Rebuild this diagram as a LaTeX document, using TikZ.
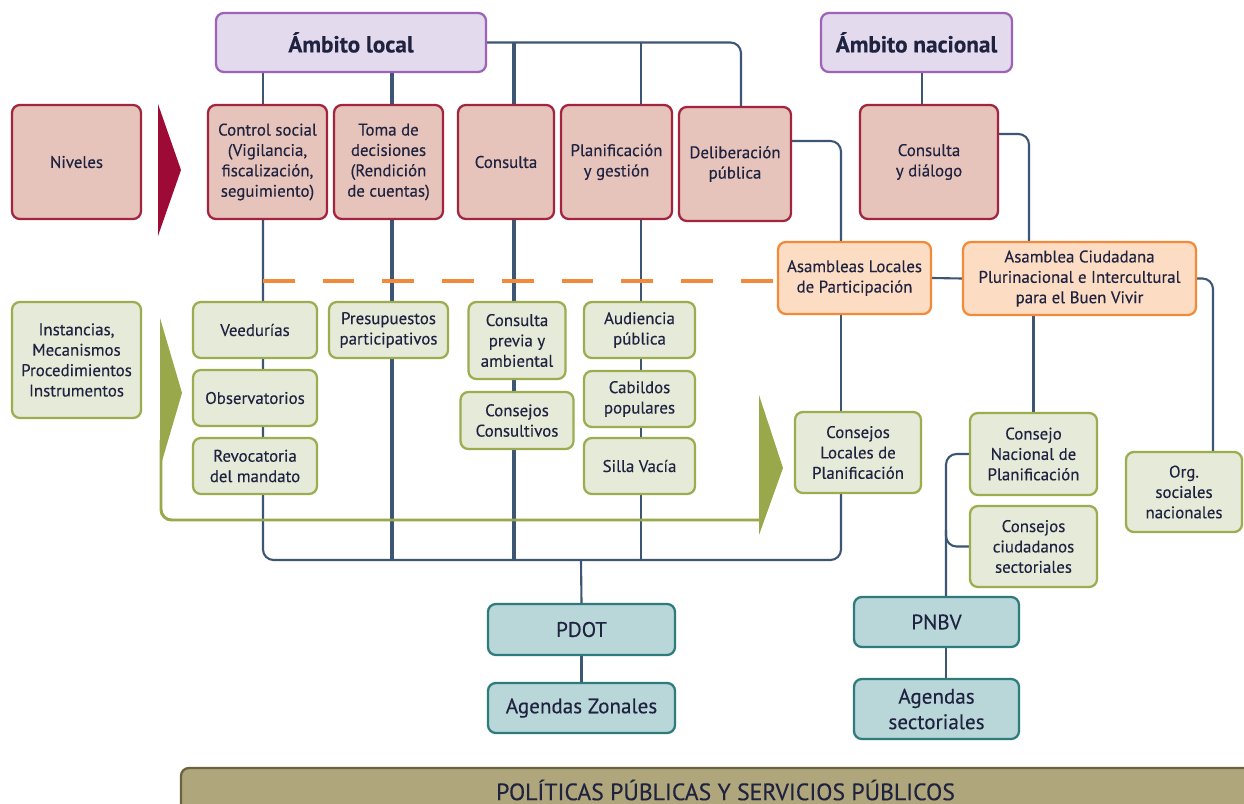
\documentclass[tikz,border=0pt]{standalone}
\usepackage{fontspec}
\setmainfont{PT Sans}[FakeBold=0.3]
\definecolor{purf}{HTML}{E3DAEE}
\definecolor{purb}{HTML}{9E63B8}
\definecolor{redf}{HTML}{E6C3BB}
\definecolor{redb}{HTML}{A3243F}
\definecolor{orgf}{HTML}{FDDCC4}
\definecolor{orgb}{HTML}{F18B3B}
\definecolor{grnf}{HTML}{E6EAD9}
\definecolor{grnb}{HTML}{9BAD4E}
\definecolor{tealf}{HTML}{B9D7D8}
\definecolor{tealb}{HTML}{2E7B7E}
\definecolor{khf}{HTML}{B0A67C}
\definecolor{khb}{HTML}{6A6340}
\definecolor{lnc}{HTML}{3C5673}
\definecolor{redtri}{HTML}{9C0A35}
\definecolor{grntri}{HTML}{98A84A}
\definecolor{txt}{HTML}{1F2340}
\pgfdeclarelayer{bg}
\pgfsetlayers{bg,main}
\tikzset{
 base/.style={rounded corners=4.5pt, line width=1.3pt, align=center, inner sep=1pt, text=txt, font=\fontsize{9.6}{11.6}\selectfont},
 wh/.style 2 args={minimum width=#1*0.02cm, minimum height=#2*0.02cm},
 amb/.style={base, draw=purb, fill=purf, font=\bfseries\fontsize{13.2}{15}\selectfont},
 lvl/.style={base, draw=redb, fill=redf},
 asm/.style={base, draw=orgb, fill=orgf},
 inst/.style={base, draw=grnb, fill=grnf},
 plan/.style={base, draw=tealb, fill=tealf, font=\fontsize{12}{14.5}\selectfont},
 polbar/.style={base, draw=khb, fill=khf, font=\fontsize{13.5}{15}\selectfont},
 conn/.style={draw=lnc, line width=1.2pt},
 connb/.style={draw=lnc, line width=1.8pt},
 dashline/.style={draw=orgb, line width=2.2pt, dash pattern=on 18pt off 16pt},
 grnline/.style={draw=grntri, line width=1.7pt},
}
\begin{document}
\begin{tikzpicture}[x=0.02cm,y=-0.02cm]
\clip (0,0) rectangle (1244,804);
% column coordinates
\coordinate (x263) at (263,0);
\coordinate (x392) at (392,0);
\coordinate (x514) at (514,0);
\coordinate (x641) at (641,0);
\coordinate (x741) at (741,0);
\coordinate (x841) at (841,0);
\coordinate (x922) at (922,0);
\coordinate (x946) at (946,0);
\coordinate (y141) at (0,141);
\coordinate (y134) at (0,134);
\coordinate (y281) at (0,281);
\coordinate (y530) at (0,530);
\coordinate (bus) at (581,560);
% nodes
\node[amb, wh={270}{59}] (al) at (351,42.5) {Ámbito local};
\node[amb, wh={191}{59}] (an) at (916.5,42.5) {Ámbito nacional};
\node[lvl, wh={129}{114}] (niv) at (76.5,162) {Niveles};
\node[lvl, wh={119}{114}] (cs) at (267.5,162) {Control social\\(Vigilancia,\\fiscalización,\\seguimiento)};
\node[lvl, wh={109}{114}] (td) at (388.5,162) {Toma de\\decisiones\\(Rendición\\de cuentas)};
\node[lvl, wh={96}{114}] (con) at (506,162) {Consulta};
\node[lvl, wh={111}{114}] (pg) at (616.5,162) {Planificación\\y gestión};
\node[lvl, wh={112}{114}] (dp) at (735,164) {Deliberación\\pública};
\node[lvl, wh={138}{114}] (cd) at (929,162) {Consulta\\y diálogo};
\node[asm, wh={153}{72}] (alp) at (854.5,278) {Asambleas Locales\\de Participación};
\node[asm, wh={233}{73}] (acp) at (1079.5,278.5) {Asamblea Ciudadana\\Plurinacional e Intercultural\\para el Buen Vivir};
\node[inst, wh={129}{116}] (ins) at (76.5,360) {Instancias,\\Mecanismos\\Procedimientos\\Instrumentos};
\node[inst, wh={124}{56}] (vee) at (255,330) {Veedurías};
\node[inst, wh={124}{56}] (obs) at (255,398) {Observatorios};
\node[inst, wh={124}{56}] (rev) at (255,466) {Revocatoria\\del mandato};
\node[inst, wh={119}{56}] (pre) at (388.5,330) {Presupuestos\\participativos};
\node[inst, wh={97}{77}] (cpa) at (517,340.5) {Consulta\\previa y\\ambiental};
\node[inst, wh={113}{57}] (cco) at (517,420.5) {Consejos\\Consultivos};
\node[inst, wh={111}{56}] (aud) at (639.5,330) {Audiencia\\pública};
\node[inst, wh={111}{56}] (cab) at (639.5,399) {Cabildos\\populares};
\node[inst, wh={111}{56}] (sil) at (639.5,466) {Silla Vacía};
\node[inst, wh={126}{81}] (clp) at (858,452.5) {Consejos\\Locales de\\Planificación};
\node[inst, wh={127}{82}] (cnp) at (1033.5,454) {Consejo\\Nacional de\\Planificación};
\node[inst, wh={127}{81}] (ccs) at (1033.5,546.5) {Consejos\\ciudadanos\\sectoriales};
\node[inst, wh={116}{80}] (org) at (1184,492) {Org.\\sociales\\nacionales};
\node[plan, wh={187}{51}] (pdot) at (581.5,629.5) {PDOT};
\node[plan, wh={187}{50}] (agz) at (581.5,708) {Agendas Zonales};
\node[plan, wh={165}{50}] (pnbv) at (936.5,622) {PNBV};
\node[plan, wh={165}{60}] (ags) at (936.5,709) {Agendas\\sectoriales};
\node[polbar, wh={1089}{44}] (pol) at (725.5,790) {POLÍTICAS PÚBLICAS Y SERVICIOS PÚBLICOS};
% triangles
\fill[redtri] (158,104) -- (181,170) -- (158,236) -- cycle;
\fill[grntri] (160,318) -- (182,393) -- (160,468) -- cycle;
\fill[grntri] (759,395) -- (783,468) -- (759,535) -- cycle;
\draw[grnline, rounded corners=6pt] (161,440) |- (762,520);
% connectors
\begin{pgfonlayer}{bg}
\fill[white] (0,0) rectangle (1244,804);
\draw[conn] (al.south -| x263) -- (cs.north -| x263);
\draw[connb] (al.south -| x392) -- (td.north -| x392);
\draw[conn, rounded corners=6pt] (al.east) -| (dp.north -| x741);
\draw[connb] (al.east -| x514) -- (con.north -| x514);
\draw[conn] (al.east -| x641) -- (pg.north -| x641);
\draw[conn, rounded corners=6pt] (cs.south -| x263) |- (bus) -| (clp.south -| x841);
\draw[connb] (td.south -| x392) -- (x392 |- bus);
\draw[connb] (con.south -| x514) -- (x514 |- bus);
\draw[conn] (pg.south -| x641) -- (x641 |- bus);
\draw[conn] (bus) -- (pdot.north);
\draw[conn] (pdot) -- (agz);
\draw[conn, rounded corners=6pt] (dp.east |- y141) -| (alp.north -| x841);
\draw[conn] (alp.south -| x841) -- (clp.north -| x841);
\draw[conn] (an.south -| x922) -- (cd.north -| x922);
\draw[conn, rounded corners=6pt] (cd.east |- y134) -| (acp.north -| 1029,0);
\draw[conn] (alp.east) -- (acp.west);
\draw[conn, rounded corners=6pt] (acp.east) -| (org.north -| 1213,0);
\draw[conn] (acp.south -| cnp.north) -- (cnp.north);
\draw[conn, rounded corners=6pt] (cnp.west) -| (pnbv.north -| x946);
\draw[conn, rounded corners=6pt] (x946 |- y530) |- (ccs.west);
\draw[conn] (pnbv.south -| x946) -- (ags.north -| x946);
\draw[dashline] (x263 |- y281) -- (alp.west |- y281);
\end{pgfonlayer}
\end{tikzpicture}
\end{document}
